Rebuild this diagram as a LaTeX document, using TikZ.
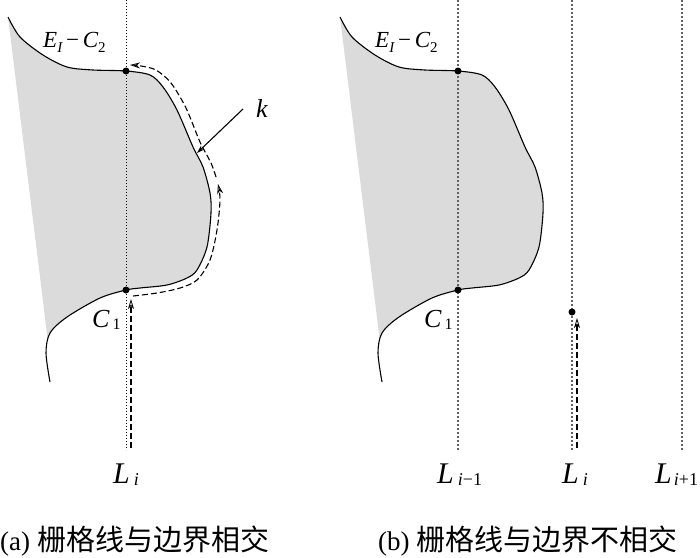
\documentclass[tikz,border=0pt]{standalone}
\usepackage{fontspec}
\setmainfont{Liberation Serif}
\newfontfamily\cjk{Noto Sans CJK SC}
\usetikzlibrary{arrows.meta}
\tikzset{
  bnd/.style={line width=1.1pt},
  fillg/.style={fill=black!14},
  gridA/.style={line width=0.8pt, dash pattern=on 0.8pt off 2.2pt},
  gridB/.style={black!62, line width=2.4pt, dash pattern=on 2.2pt off 1.8pt},
  trace/.style={line width=1.1pt, dash pattern=on 6pt off 3pt},
  ohead/.style={-{Stealth[open,length=10pt,width=6pt,inset=3pt,line width=0.8pt]}},
  dotn/.style={circle,fill,inner sep=0pt,minimum size=7pt},
  lab/.style={inner sep=0pt, anchor=base west},
  capt/.style={inner sep=0pt, font=\fontsize{29}{32}\selectfont},
}
\newcommand\fs[1]{\fontsize{#1}{#1}\selectfont}
\newcommand\Elab{{\fs{23}\itshape E}\raisebox{-5pt}{\fs{15}\itshape I}{\fs{23}\,−\,\itshape C}\raisebox{-5pt}{\fs{15}2}}
\newcommand\Clab{{\fs{26}\itshape C}\hspace{3pt}\raisebox{-2pt}{\fs{16}1}}
\newcommand\Llab[2]{{\fs{30}\itshape L}\hspace{#1}\raisebox{-2pt}{\fs{18}#2}}
\newcommand\myboundary{%
  \begin{scope}
    \clip (8,17) -- (48,342) -- (300,342) -- (300,-10) -- (8,-10) -- cycle;
    \fill[fillg] plot[smooth,tension=0.5] coordinates {(8,17) (20,37) (43,55) (67,67) (93,70) (126,71) (150,75) (163,87) (177,110) (193,147) (203,167) (210,193) (211,213) (207,247) (197,270) (187,278) (167,285) (140,288) (126,290) (100,298) (67,317) (50,333) (46,353) (50,382)} -- cycle;
  \end{scope}
  \draw[bnd] plot[smooth,tension=0.5] coordinates {(8,17) (20,37) (43,55) (67,67) (93,70) (126,71) (150,75) (163,87) (177,110) (193,147) (203,167) (210,193) (211,213) (207,247) (197,270) (187,278) (167,285) (140,288) (126,290) (100,298) (67,317) (50,333) (46,353) (50,382)};
}
\begin{document}
\begin{tikzpicture}[x=1pt,y=-1pt]
\useasboundingbox (0,0) rectangle (700,557);

% ---------- panel (a)
\myboundary
\coordinate (aTop) at (126,0);
\coordinate (aBot) at (126,450);
\draw[gridA] (aTop) -- (aBot);
\node[dotn] (aC2) at (126,71) {};
\node[dotn] (aC1) at (126,290) {};
\node[lab] (aE) at (43,47) {\Elab};
\node[lab] (aC) at (92,327) {\Clab};
\node[lab] (aL) at (113,483) {\Llab{4pt}{\itshape i}};

\coordinate (t1s) at (131,448);
\coordinate (t1e) at (131,299);
\draw[trace, ohead] (t1s) -- (t1e);
\draw[trace, ohead] plot[smooth] coordinates {(133,296) (157,293) (180,288) (197,280) (210,260) (217,230) (220,200) (218,184)};
\draw[trace, ohead] plot[smooth] coordinates {(216,177) (211,163) (200,142) (186,108) (171,83) (156,70) (141,66) (130,65)};

\coordinate (ks) at (243,109);
\coordinate (ke) at (197,153);
\draw[line width=1.1pt, -{Stealth[length=8pt,width=5pt]}] (ks) -- (ke);
\node[lab] (k) at (256,117) {\fs{26}\itshape k};

% ---------- panel (b)
\begin{scope}[shift={(332,0)}]
  \myboundary
\end{scope}
\coordinate (b1Top) at (458,0);
\coordinate (b1Bot) at (458,450);
\coordinate (b2Top) at (572,0);
\coordinate (b2Bot) at (572,450);
\coordinate (b3Top) at (682,0);
\coordinate (b3Bot) at (682,450);
\draw[gridB] (b1Top) -- (b1Bot);
\draw[gridB] (b2Top) -- (b2Bot);
\draw[gridB] (b3Top) -- (b3Bot);
\node[dotn] (bC2) at (458,71) {};
\node[dotn] (bC1) at (458,290) {};
\node[dotn] (bP) at (572,312) {};
\node[lab] (bE) at (375,47) {\Elab};
\node[lab] (bC) at (424,327) {\Clab};
\node[lab] (bL1) at (437,483) {\Llab{4pt}{\itshape i\upshape −1}};
\node[lab] (bL2) at (562,483) {\Llab{4pt}{\itshape i}};
\node[lab] (bL3) at (655,483) {\Llab{2pt}{\itshape i\upshape +1}};
\coordinate (t4s) at (577,448);
\coordinate (t4e) at (577,318);
\draw[trace, ohead] (t4s) -- (t4e);

% ---------- captions
\node[capt, anchor=west] (capA) at (0,541) {{\fs{27}(a)} \cjk 栅格线与边界相交};
\node[capt, anchor=west] (capB) at (378,541) {{\fs{27}(b)} \cjk 栅格线与边界不相交};
\end{tikzpicture}
\end{document}
